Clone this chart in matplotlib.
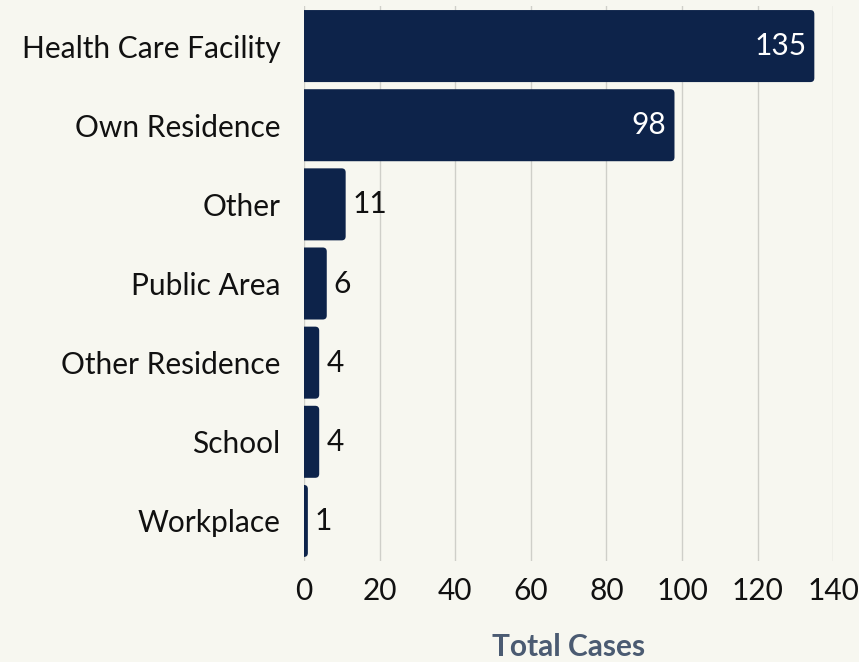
import matplotlib.pyplot as plt
from matplotlib.patches import FancyBboxPatch
import numpy as np

# 数据
categories = ['Health Care Facility', 'Own Residence', 'Other', 'Public Area',
              'Other Residence', 'School', 'Workplace']
cases = [135, 98, 11, 6, 4, 4, 1]
xticks = [0, 20, 40, 60, 80, 100, 120, 140]

bg = '#f7f7f0'
bar_color = '#0d234a'
fs = 21.5

plt.rcParams['font.family'] = ['Lato', 'DejaVu Sans']
plt.rcParams['font.size'] = fs

fig = plt.figure(figsize=(8.59, 6.62), dpi=100, facecolor=bg)
ax = fig.add_axes([0.354, 0.1533, 0.616, 0.8369], facecolor=bg)

n = len(categories)
ypos = np.arange(n)
ax.set_xlim(0, 140)
ax.set_ylim(n - 0.5, -0.5)

# 每个数据单位在屏幕上的像素，用来让圆角看起来是正圆
fig.canvas.draw()
bb = ax.get_window_extent()
px_x = bb.width / 140
px_y = bb.height / n
r_px = 4
h = 0.91

for y, v in zip(ypos, cases):
    p = FancyBboxPatch((-3, y - h / 2), v + 3, h,
                       boxstyle='round,pad=0,rounding_size=%f' % (r_px / px_x),
                       mutation_aspect=px_x / px_y,
                       fc=bar_color, ec='none', zorder=3)
    ax.add_patch(p)
    if v > 50:
        ax.text(v - 8 / px_x, y, str(v), color='white', ha='right', va='center',
                fontsize=fs, zorder=4)
    else:
        ax.text(v + 7 / px_x, y, str(v), color='#111111', ha='left', va='center',
                fontsize=fs, zorder=4)

ax.set_yticks(ypos)
ax.set_yticklabels(categories)
ax.set_xticks(xticks)
ax.tick_params(axis='both', length=0, labelsize=fs, labelcolor='#111111')
ax.tick_params(axis='y', pad=17)
ax.tick_params(axis='x', pad=12)
ax.grid(axis='x', color='#cfcfc9', linewidth=1, zorder=0)
ax.set_axisbelow(True)
for s in ax.spines.values():
    s.set_visible(False)

ax.set_xlabel('Total Cases', fontsize=fs, fontweight='bold', color='#4b5b72', labelpad=20)

fig.savefig('out.png', dpi=100, facecolor=bg)
